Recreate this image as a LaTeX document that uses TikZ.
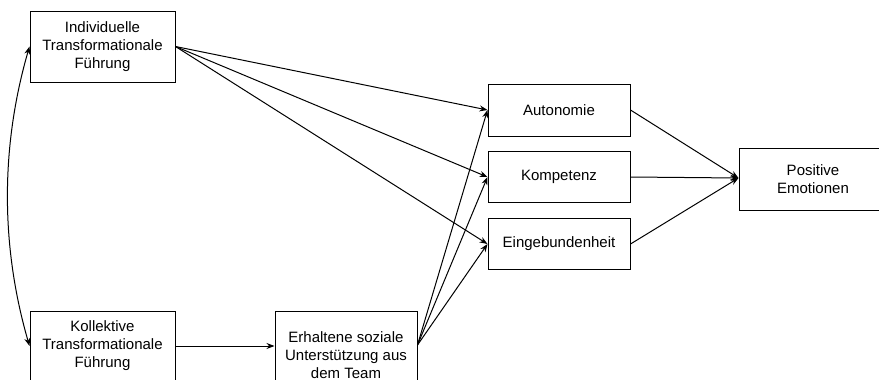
\documentclass[tikz,border=0pt]{standalone}
\usepackage{fontspec}
\setmainfont{Liberation Sans}
\usetikzlibrary{arrows.meta,calc}
\begin{document}
\begin{tikzpicture}[x=1pt,y=-1pt,
  box/.style={draw,line width=1pt,align=center,inner sep=2pt,font=\fontsize{15}{18}\selectfont},
  arr/.style={line width=1pt,-{Stealth[length=8pt,width=6pt]}},
  darr/.style={line width=1pt,{Stealth[length=8pt,width=6pt]}-{Stealth[length=8pt,width=6pt]}}]
\useasboundingbox (0,0) rectangle (879,380);
\clip (0,0) rectangle (879,380);
\node[box,minimum width=145pt,minimum height=71pt] (ind) at (102.5,46.5) {Individuelle\\Transformationale\\Führung};
\node[box,minimum width=145pt,minimum height=70pt] (kol) at (102.5,346) {Kollektive\\Transformationale\\Führung};
\node[box,minimum width=142pt,minimum height=88pt] (erh) at (346,355) {Erhaltene soziale\\Unterstützung aus\\dem Team};
\node[box,minimum width=142pt,minimum height=52pt] (aut) at (559,110) {Autonomie};
\node[box,minimum width=142pt,minimum height=51pt] (kom) at (559,177) {Kompetenz};
\node[box,minimum width=142pt,minimum height=51pt] (ein) at (559,244) {Eingebundenheit};
\node[box,minimum width=148pt,minimum height=62pt] (pos) at (813,179) {Positive\\Emotionen};
\coordinate (erhout) at ($(erh.east)+(0,-10)$);
\coordinate (posin) at ($(pos.west)+(0,-1)$);
\draw[darr] (ind.west) .. controls ($(ind.west)+(-29,100)$) and ($(kol.west)+(-29,-100)$) .. (kol.west);
\draw[arr] (kol.east) -- (kol.east -| erh.west);
\foreach \t in {aut,kom,ein} {
  \draw[arr] (ind.east) -- (\t.west);
  \draw[arr] (erhout) -- (\t.west);
  \draw[arr] (\t.east) -- (posin);
}
\end{tikzpicture}
\end{document}
